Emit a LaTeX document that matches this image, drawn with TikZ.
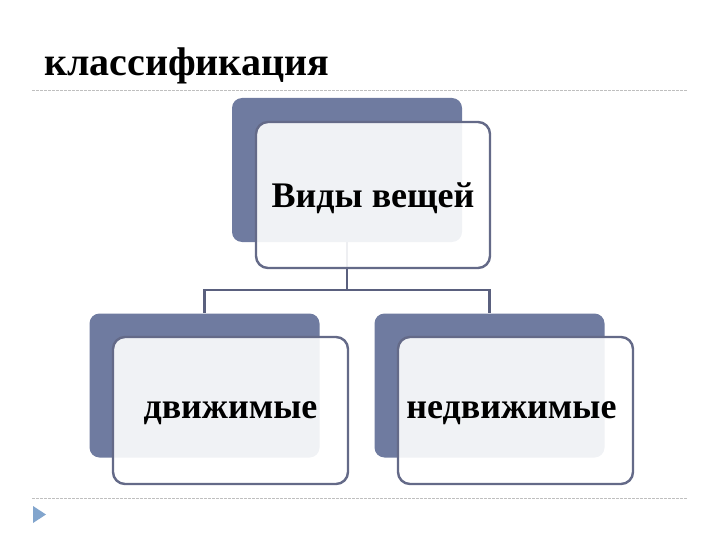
\documentclass[tikz,border=0pt]{standalone}
\usepackage{fontspec}
\setmainfont{Liberation Serif}
\definecolor{boxback}{RGB}{111,123,160}
\definecolor{boxline}{RGB}{100,106,136}
\definecolor{linkline}{RGB}{90,96,126}
\definecolor{tri}{RGB}{130,165,205}

\begin{document}
\begin{tikzpicture}[x=1pt, y=-1pt,
	back/.style={fill=boxback, rounded corners=10pt, minimum width=230pt, minimum height=144pt, inner sep=0pt},
	front/.style={draw=boxline, line width=2.4pt, fill=white, fill opacity=0.9, text opacity=1, rounded corners=12pt, minimum width=234pt, minimum height=146pt, inner sep=0pt, text depth=0pt, font=\fontsize{36}{43}\selectfont\bfseries},
	link/.style={draw=linkline, line width=2.6pt},
	sep/.style={draw=black!25, line width=0.8pt, dash pattern=on 2.5pt off 1.5pt}]
	\useasboundingbox (0,0) rectangle (720,540);
	\node [anchor=base west, inner sep=0pt, font=\fontsize{40}{48}\selectfont\bfseries] (T) at (44,76) {классификация};
	\draw [sep] (32,90) -- (688,90);
	\draw [sep] (32,498) -- (688,498);
	\fill [tri] (33,506) -- (46,514.5) -- (33,523) -- cycle;
	\node [back] (B0) at (347,170) {};
	\node [back] (B1) at (204.5,385.5) {};
	\node [back] (B2) at (489.5,385.5) {};
	\coordinate (J) at (347,290);
	\draw [link] (B0.south) -- (J) -| (B1.north);
	\draw [link] (J) -| (B2.north);
	\node [front] (V) at (373,195) {Виды вещей};
	\node [front, minimum width=235pt, minimum height=147pt] (M) at (230.5,410.5) {движимые};
	\node [front, minimum width=235pt, minimum height=147pt] (N) at (515.5,410.5) {\hspace*{-8pt}недвижимые};
\end{tikzpicture}
\end{document}
